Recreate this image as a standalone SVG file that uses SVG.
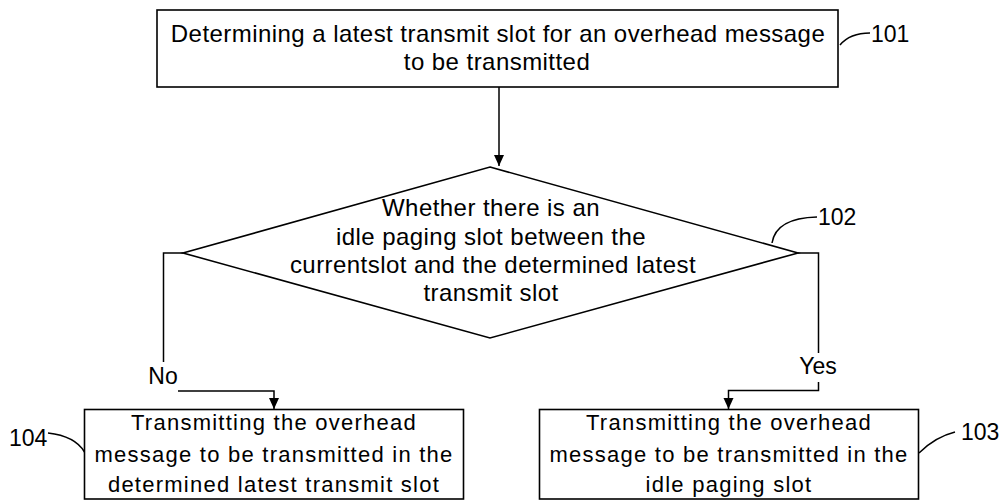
<svg xmlns="http://www.w3.org/2000/svg" width="1008" height="500" viewBox="0 0 1008 500">
<style>
.box{fill:#fff;stroke:#000;stroke-width:1.6}
.ln{fill:none;stroke:#000;stroke-width:1.5}
.t{font-family:"Liberation Sans",Arial,sans-serif;font-size:24px;letter-spacing:0.45px;fill:#000;text-anchor:middle}
.t2{font-family:"Liberation Sans",Arial,sans-serif;font-size:22px;letter-spacing:1.25px;fill:#000;text-anchor:middle}
.lbl{font-family:"Liberation Sans",Arial,sans-serif;font-size:23px;fill:#000}
</style>
<defs>
<marker id="arr" markerWidth="12" markerHeight="12" refX="11" refY="5" orient="auto" markerUnits="userSpaceOnUse">
<path d="M0,0 L11,5 L0,10 Z" fill="#000"/>
</marker>
</defs>
<g id="connectors">
<path class="ln" d="M499,87 V166" marker-end="url(#arr)"/>
<path class="ln" d="M183,253 H163.5 V362"/>
<path class="ln" d="M178,391 H274 V409" marker-end="url(#arr)"/>
<path class="ln" d="M798,253 H818.5 V353"/>
<path class="ln" d="M818.5,382 V390.5 H728.5 V409" marker-end="url(#arr)"/>
<text class="lbl" x="163" y="384" text-anchor="middle">No</text>
<text class="lbl" x="818" y="374" text-anchor="middle">Yes</text>
</g>
<g id="n101">
<rect class="box" x="157" y="10" width="681" height="77"/>
<text class="t" x="498" y="42">Determining a latest transmit slot for an overhead message</text>
<text class="t" x="497" y="70">to be transmitted</text>
<path class="ln" d="M840,45 Q850,33 870,33"/>
<text class="lbl" x="871" y="42">101</text>
</g>
<g id="n102">
<polygon class="box" points="490,167 798,253 490,338 183,253"/>
<text class="t" x="491" y="216">Whether there is an</text>
<text class="t" x="491" y="245">idle paging slot between the</text>
<text class="t" x="493" y="273">currentslot and the determined latest</text>
<text class="t" x="491" y="301">transmit slot</text>
<path class="ln" d="M772,243 Q776,218 817,217"/>
<text class="lbl" x="818" y="225">102</text>
</g>
<g id="n104">
<rect class="box" x="84.5" y="409.5" width="379" height="89.5"/>
<text class="t2" x="274" y="430">Transmitting the overhead</text>
<text class="t2" x="274" y="461.5">message to be transmitted in the</text>
<text class="t2" x="274" y="492">determined latest transmit slot</text>
<path class="ln" d="M48,433 Q75,436 84.5,452"/>
<text class="lbl" x="9" y="446">104</text>
</g>
<g id="n103">
<rect class="box" x="539.5" y="409.5" width="379" height="89.5"/>
<text class="t2" x="729" y="430">Transmitting the overhead</text>
<text class="t2" x="729" y="461.5">message to be transmitted in the</text>
<text class="t2" x="729" y="492">idle paging slot</text>
<path class="ln" d="M919,453 Q935,437 955,432"/>
<text class="lbl" x="961" y="440">103</text>
</g>
</svg>
